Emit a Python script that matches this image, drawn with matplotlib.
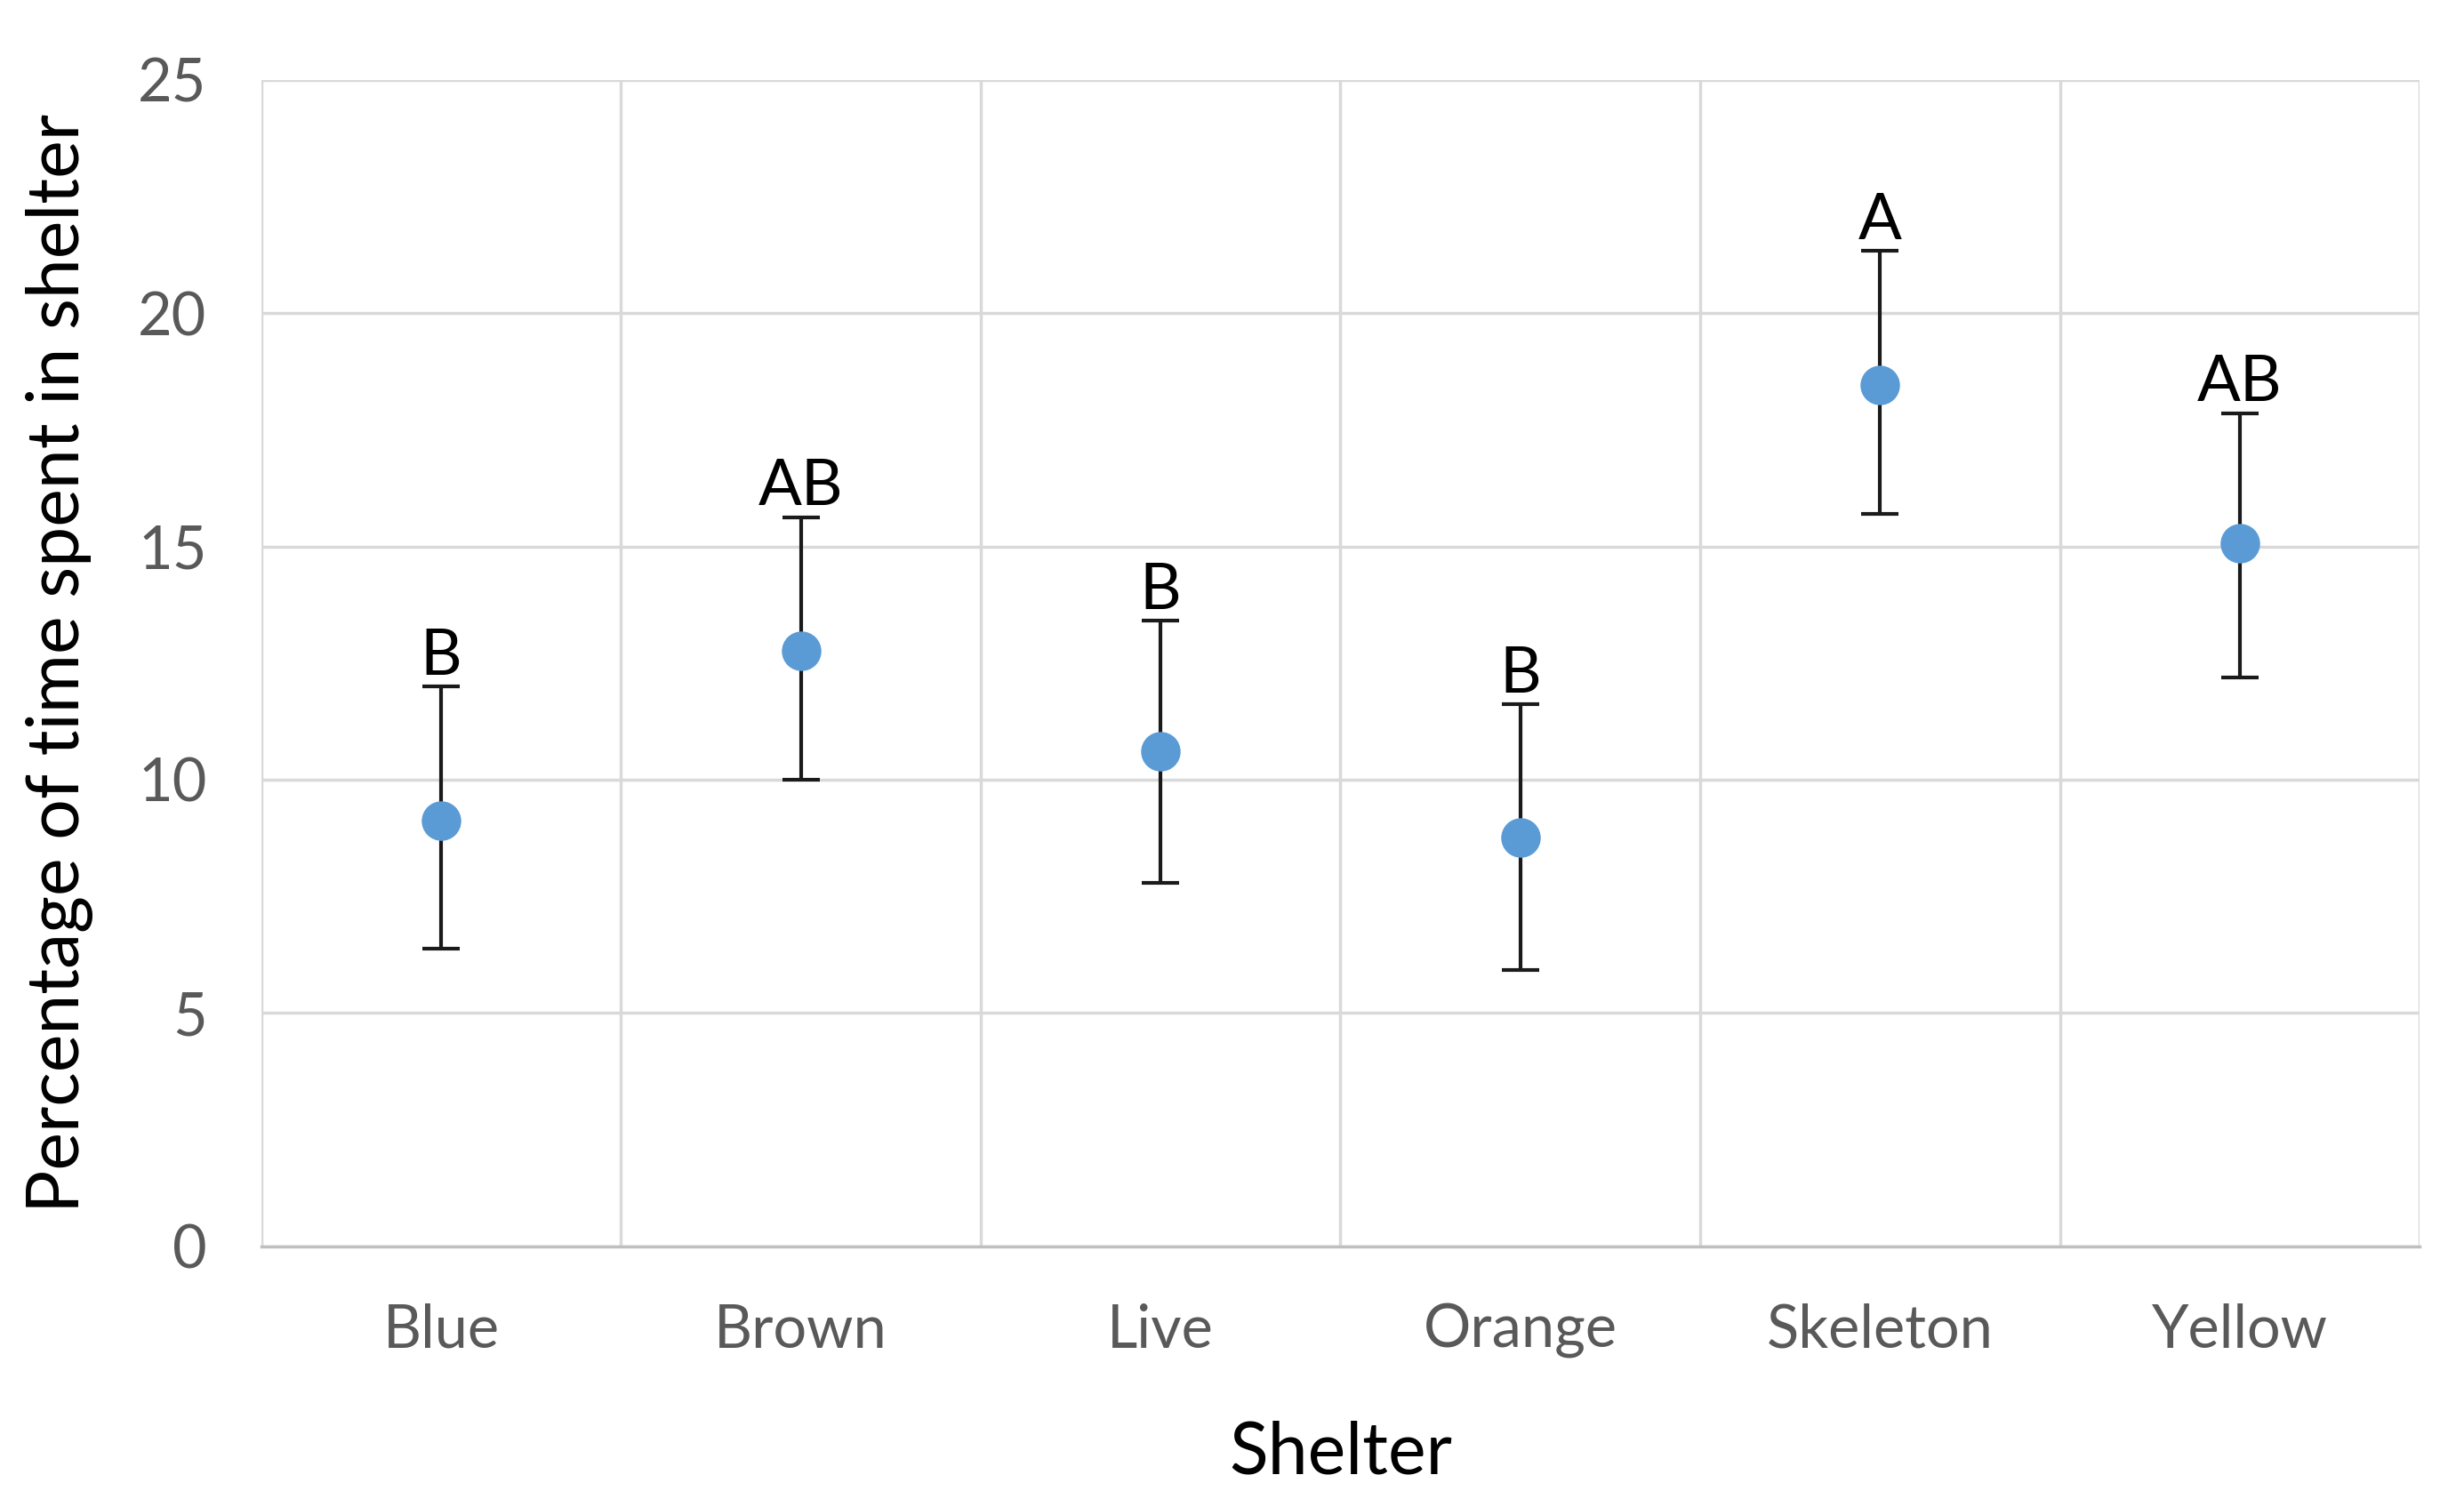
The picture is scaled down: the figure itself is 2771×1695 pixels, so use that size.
import numpy as np
import matplotlib
matplotlib.use("Agg")
import matplotlib.pyplot as plt

plt.rcParams['font.family'] = ['Lato', 'DejaVu Sans']

# shelter types and mean % time (with error bar ends)
shelters = ['Blue', 'Brown', 'Live', 'Orange', 'Skeleton', 'Yellow']
means = [9.13, 12.77, 10.61, 8.76, 18.46, 15.06]
upper = [12.0, 15.63, 13.41, 11.62, 21.33, 17.86]
lower = [6.37, 10.0, 7.78, 5.93, 15.70, 12.20]
letters = ['B', 'AB', 'B', 'B', 'A', 'AB']

means = np.array(means)
err_up = np.array(upper) - means
err_lo = means - np.array(lower)
x = np.arange(len(shelters))

fig = plt.figure(figsize=(27.71, 16.95), dpi=100)
ax = fig.add_axes([0.106, 0.173, 0.876, 0.774])

ax.errorbar(x, means, yerr=[err_lo, err_up], fmt='o', color='#5B9BD5',
            markersize=31, ecolor='#1a1a1a', elinewidth=3, capsize=15,
            capthick=3, zorder=3)

for i in range(len(shelters)):
    ax.annotate(letters[i], (x[i], upper[i]), xytext=(0, 1), textcoords='offset points',
                ha='center', va='bottom', fontsize=52, color='black')

ax.set_xlim(-0.5, len(shelters) - 0.5)
ax.set_ylim(0, 25)
ax.set_yticks(np.arange(0, 26, 5))
ax.set_xticks(x)
ax.set_xticklabels(shelters)

# vertical grid on category boundaries
ax.set_xticks(np.arange(-0.5, len(shelters), 1), minor=True)
ax.grid(which='minor', axis='x', color='#d9d9d9', linewidth=2.5)
ax.grid(which='major', axis='y', color='#d9d9d9', linewidth=2.5)
ax.set_axisbelow(True)

for s in ['top', 'right', 'left']:
    ax.spines[s].set_visible(False)
ax.spines['bottom'].set_color('#bfbfbf')
ax.spines['bottom'].set_linewidth(2.5)

ax.tick_params(which='both', length=0)
ax.tick_params(axis='y', pad=44, labelsize=48, labelcolor='#595959')
ax.tick_params(axis='x', pad=46, labelsize=48, labelcolor='#595959')

ax.set_xlabel('Shelter', fontsize=58, labelpad=50)
ax.set_ylabel('Percentage of time spent in shelter', fontsize=58, labelpad=36)

fig.savefig('out.png', dpi=100)
